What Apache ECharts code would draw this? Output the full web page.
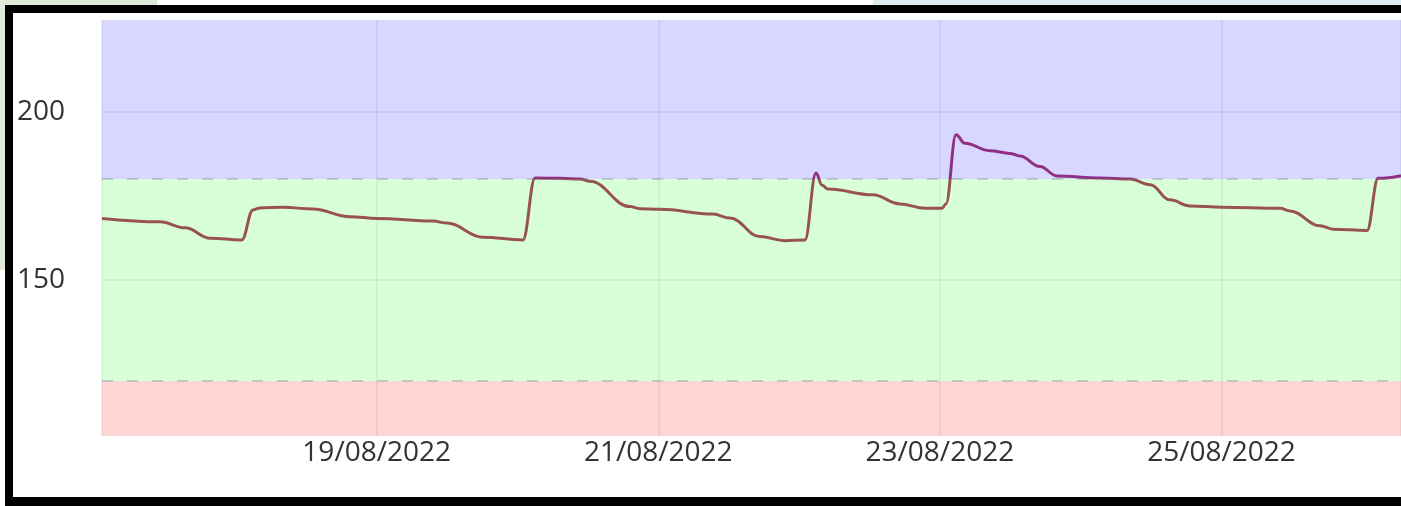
<!DOCTYPE html>
<html>
<head>
<meta charset="utf-8">
<script src="https://cdn.jsdelivr.net/npm/echarts@6/dist/echarts.min.js"></script>
<style>
    html, body {
        margin: 0;
        padding: 0;
        width: 1401px;
        height: 506px;
        overflow: hidden;
        background: #ffffff;
    }
    .bg-left {
        position: absolute;
        left: 0;
        top: 0;
        width: 157px;
        height: 270px;
        background: #dfead8;
    }
    .bg-right {
        position: absolute;
        left: 873px;
        top: 0;
        width: 528px;
        height: 6px;
        background: #dcedf0;
    }
    .frame {
        position: absolute;
        left: 5px;
        top: 5px;
        width: 1400px;
        height: 484px;
        border-left: 8px solid #000;
        border-top: 8px solid #000;
        border-bottom: 9px solid #000;
        background: #fff;
    }
    #chart {
        width: 1388px;
        height: 484px;
    }
</style>
</head>
<body>
<div class="bg-left"></div>
<div class="bg-right"></div>
<div class="frame"><div id="chart"></div></div>
<script>
// readings (time, level)
const times = [
    '2022-08-17 01:11', '2022-08-17 11:04', '2022-08-17 15:20', '2022-08-17 19:37',
    '2022-08-18 01:00', '2022-08-18 02:55', '2022-08-18 04:06', '2022-08-18 08:02',
    '2022-08-18 13:09', '2022-08-18 19:27', '2022-08-19 00:03', '2022-08-19 09:36',
    '2022-08-19 12:00', '2022-08-19 18:07', '2022-08-20 00:56', '2022-08-20 03:00',
    '2022-08-20 07:14', '2022-08-20 10:39', '2022-08-20 12:22', '2022-08-20 19:11',
    '2022-08-20 20:53', '2022-08-21 00:17', '2022-08-21 09:19', '2022-08-21 12:13',
    '2022-08-21 17:20', '2022-08-21 21:36', '2022-08-22 01:00', '2022-08-22 02:53',
    '2022-08-22 03:54', '2022-08-22 04:55', '2022-08-22 12:35', '2022-08-22 17:12',
    '2022-08-22 21:28', '2022-08-23 00:22', '2022-08-23 01:02', '2022-08-23 02:45',
    '2022-08-23 04:17', '2022-08-23 08:32', '2022-08-23 11:57', '2022-08-23 13:39',
    '2022-08-23 17:04', '2022-08-23 19:58', '2022-08-24 03:17', '2022-08-24 08:24',
    '2022-08-24 11:52', '2022-08-24 15:12', '2022-08-24 18:38', '2022-08-25 00:05',
    '2022-08-25 09:59', '2022-08-25 11:41', '2022-08-25 16:48', '2022-08-25 19:00',
    '2022-08-26 00:48', '2022-08-26 02:42', '2022-08-26 06:36'
];
const levels = [
    168.3, 167.3, 165.5, 162.4,
    161.9, 170.8, 171.4, 171.6,
    171.1, 168.8, 168.3, 167.5,
    166.9, 162.7, 161.9, 180.3,
    180.2, 180.0, 179.3, 171.8,
    171.2, 171.0, 169.6, 168.4,
    162.9, 161.7, 161.9, 181.8,
    178.2, 177.0, 175.3, 172.6,
    171.3, 171.3, 172.6, 193.1,
    190.6, 188.4, 187.6, 186.8,
    183.7, 180.9, 180.3, 180.0,
    178.3, 173.8, 172.0, 171.6,
    171.3, 170.5, 166.1, 165.1,
    164.7, 180.2, 181.0
];

const xRange = ['2022-08-17 01:11', '2022-08-26 06:36'];
const yRange = [103.7, 227.2];
const lowLimit = 120;
const highLimit = 180;

const pad = n => (n < 10 ? '0' : '') + n;

const chart = echarts.init(document.getElementById('chart'));

chart.setOption({
    animation: false,
    textStyle: { fontFamily: 'Open Sans' },
    grid: { left: 89, top: 7, right: 0, bottom: 61 },
    xAxis: {
        type: 'time',
        min: xRange[0],
        max: xRange[1],
        splitNumber: 5,
        axisLine: { show: false },
        axisTick: { show: false },
        axisLabel: {
            color: '#333',
            fontSize: 28,
            margin: 3,
            hideOverlap: false,
            formatter: function (v) {
                const d = new Date(v);
                return pad(d.getDate()) + '/' + pad(d.getMonth() + 1) + '/' + d.getFullYear();
            }
        },
        splitLine: { show: true, lineStyle: { color: 'rgba(0,0,0,0.08)', width: 1.5 } }
    },
    yAxis: {
        type: 'value',
        min: yRange[0],
        max: yRange[1],
        splitNumber: 2,
        axisLine: { show: false },
        axisTick: { show: false },
        axisLabel: {
            color: '#333',
            fontSize: 28,
            margin: 37,
            showMinLabel: false,
            showMaxLabel: false
        },
        splitLine: {
            show: true,
            showMinLine: false,
            showMaxLine: false,
            lineStyle: { color: 'rgba(0,0,0,0.07)', width: 2 }
        }
    },
    visualMap: {
        type: 'piecewise',
        show: false,
        seriesIndex: 0,
        dimension: 1,
        pieces: [
            { min: yRange[0], max: highLimit, color: '#985350' },
            { min: highLimit, max: yRange[1], color: '#8f3086' }
        ]
    },
    series: [
        {
            type: 'line',
            data: times.map((t, i) => [t, levels[i]]),
            showSymbol: false,
            smooth: 0.4,
            smoothMonotone: 'x',
            lineStyle: { width: 3 },
            markArea: {
                silent: true,
                data: [
                    [{ yAxis: yRange[0], itemStyle: { color: 'rgba(255,0,0,0.16)' } }, { yAxis: lowLimit }],
                    [{ yAxis: lowLimit, itemStyle: { color: 'rgba(0,255,0,0.15)' } }, { yAxis: highLimit }],
                    [{ yAxis: highLimit, itemStyle: { color: 'rgba(0,0,255,0.155)' } }, { yAxis: yRange[1] }]
                ]
            },
            markLine: {
                silent: true,
                symbol: 'none',
                label: { show: false },
                lineStyle: { color: 'rgba(110,110,130,0.3)', type: [11, 14], width: 2 },
                data: [{ yAxis: lowLimit }, { yAxis: highLimit }]
            }
        }
    ]
});
</script>
</body>
</html>
